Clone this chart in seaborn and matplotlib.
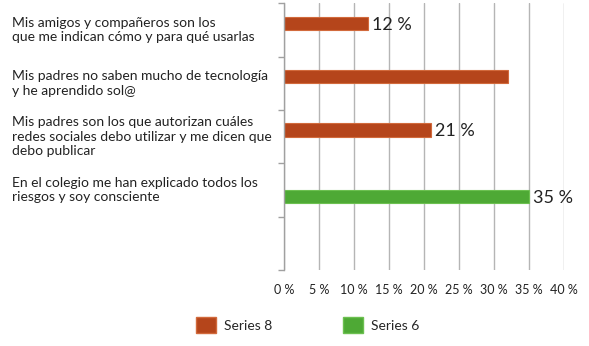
import matplotlib.pyplot as plt
import matplotlib.transforms as mtransforms
from matplotlib.patches import Patch
import pandas as pd
import seaborn as sns

sns.set_style("white")
plt.rcParams['font.family'] = ['Lato', 'DejaVu Sans']

# chart data
categories = [
    "Mis amigos y compañeros son los\nque me indican cómo y para qué usarlas",
    "Mis padres no saben mucho de tecnología\ny he aprendido sol@",
    "Mis padres son los que autorizan cuáles\nredes sociales debo utilizar y me dicen que\ndebo publicar",
    "En el colegio me han explicado todos los\nriesgos y soy consciente",
]
series = ["Series 8", "Series 8", "Series 8", "Series 6"]
values = [12, 32, 21, 35]
value_labels = ["12 %", "", "21 %", "35 %"]
series_order = ["Series 8", "Series 6"]
series_colors = {"Series 8": "#b5451b", "Series 6": "#4ea935"}
edge_colors = {"Series 8": "#d26a3c", "Series 6": "#6cc050"}
xticks = [0, 5, 10, 15, 20, 25, 30, 35, 40]

data = pd.DataFrame({"category": categories, "series": series, "value": values})

fig = plt.figure(figsize=(5.89, 3.46), dpi=100)
ax = fig.add_axes([284.3 / 589, 1 - 270 / 346, (564 - 284.3) / 589, (270 - 3.3) / 346])

sns.barplot(data=data, x="value", y="category", hue="series", hue_order=series_order,
            order=categories, palette=series_colors, orient="h", width=0.5,
            dodge=True, saturation=1, legend=False, ax=ax)

for bars, name in zip(ax.containers, series_order):
    for b in bars:
        b.set_edgecolor(edge_colors[name])
        b.set_linewidth(0.8)

# value labels next to the bars
for bars in ax.containers:
    for b in bars:
        w = b.get_width()
        if pd.isna(w) or w == 0:
            continue
        idx = values.index(round(w))
        txt = value_labels[idx]
        if txt:
            ax.annotate(txt, (w, b.get_y() + b.get_height() / 2), xytext=(3, -1),
                        textcoords="offset points", va="center", ha="left",
                        fontsize=13, color="#222222")

ax.set_xlim(0, 40)
ax.set_ylim(4.5, -0.5)
ax.set_xticks(xticks)
ax.set_xticklabels([f"{t} %" for t in xticks], fontsize=9, color="#222222")
ax.tick_params(axis="x", length=0, pad=10)
ax.xaxis.grid(True, color="#b5b5b5", linewidth=1)
ax.set_axisbelow(True)

ax.set_yticks([i - 0.5 for i in range(6)])
ax.set_yticklabels([])
ax.tick_params(axis="y", left=True, length=4, color="#a0a0a0", width=1)
ax.set_xlabel("")
ax.set_ylabel("")

for side in ["top", "right", "bottom"]:
    ax.spines[side].set_visible(False)
ax.spines["left"].set_color("#a0a0a0")
ax.spines["left"].set_linewidth(1)

# category labels, left aligned at the figure edge
trans = mtransforms.blended_transform_factory(fig.transFigure, ax.transData)
for i, cat in enumerate(categories):
    ax.text(12 / 589, i, cat, transform=trans, ha="left", va="center",
            fontsize=10, color="#222222", linespacing=1.25)

handles = [Patch(facecolor=series_colors[s], edgecolor=edge_colors[s], label=s)
           for s in series_order]
fig.legend(handles=handles, loc="center", bbox_to_anchor=(308 / 589, 1 - 325 / 346),
           ncol=2, frameon=False, fontsize=10, handlelength=1.4, handleheight=1.4,
           columnspacing=5.1, handletextpad=0.6)

fig.savefig("out.png", dpi=100, facecolor="white")
